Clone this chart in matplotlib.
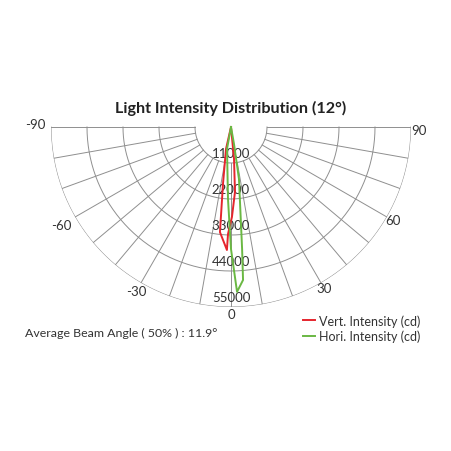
import numpy as np
from matplotlib import pyplot as plt

plt.rcParams['font.family'] = ['Lato', 'DejaVu Sans']

# curvas de intensidad (angulo en grados, intensidad en cd)
vert_angle = [0, -12.8, -8.0, -6.0, -1.9, -1.6, 0.6, 3.5, 5.4, 0]
vert_cd = [0, 6900, 17600, 32300, 37600, 32700, 27500, 19900, 9800, 0]

hori_angle = [0, -10.3, -2.4, 0.0, 2.1, 4.5, 5.2, 8.7, 10.0, 0]
hori_cd = [0, 6800, 22000, 37300, 50400, 46900, 37400, 16100, 5300, 0]

ring_values = [11000, 22000, 33000, 44000, 55000]
angle_ticks = [-90, -60, -30, 0, 30, 60, 90]
spoke_angles = list(range(-90, 91, 10))

titulo = "Light Intensity Distribution (12°)"
beam_text = "Average Beam Angle ( 50% ) : 11.9°"

grid_col = "#8f8f8f"
text_col = "#333333"
red = "#e5252d"
green = "#6ab843"

fig = plt.figure(figsize=(4.52, 4.52), dpi=100)
# eje polar completo, centro en (231, 128) px, radio 180 px
ax = fig.add_axes([51 / 452, 144 / 452, 360 / 452, 360 / 452], projection="polar")
ax.set_theta_zero_location("S")
ax.set_theta_direction(1)
ax.set_rlim(0, 55000)
ax.grid(False)
ax.set_xticks([])
ax.set_yticks([])
ax.patch.set_visible(False)
for s in ax.spines.values():
    s.set_visible(False)

# anillos (semicirculo inferior)
arc = np.radians(np.linspace(-90, 90, 361))
for v in ring_values:
    ax.plot(arc, [v] * len(arc), color=grid_col, lw=0.7, zorder=1)

# radios desde el primer anillo
for a in spoke_angles:
    ax.plot([np.radians(a)] * 2, [ring_values[0], ring_values[-1]], color=grid_col, lw=0.7, zorder=1)

for v in ring_values:
    ax.text(0, v - 3200, str(v), ha="center", va="center", fontsize=9.5, color=text_col, zorder=2)

# etiquetas de angulo
label_r = {-90: 59900, -60: 59900, -30: 57800, 0: 57000, 30: 56800, 60: 57100, 90: 57400}
for a in angle_ticks:
    t = a - 1 if abs(a) == 90 else a
    ax.text(np.radians(t), label_r[a], str(a), ha="center", va="center", fontsize=9.5,
            color=text_col, clip_on=False)

ax.plot(np.radians(vert_angle), vert_cd, color=red, lw=1.4, zorder=3, label="Vert. Intensity (cd)")
ax.plot(np.radians(hori_angle), hori_cd, color=green, lw=1.4, zorder=3, label="Hori. Intensity (cd)")

fig.text(231 / 452, 1 - 108 / 452, titulo, ha="center", va="center", fontsize=11.6, fontweight="bold",
         color="#222222")
fig.text(25 / 452, 1 - 333 / 452, beam_text, ha="left", va="center", fontsize=8.9, color=text_col)

fig.legend(loc="upper left", bbox_to_anchor=(303 / 452, 1 - 315 / 452), frameon=False, fontsize=9,
           handlelength=1.0, handletextpad=0.25, labelspacing=0.25, borderpad=0, borderaxespad=0,
           labelcolor=text_col)

fig.savefig("out.png", dpi=100, facecolor="white")
